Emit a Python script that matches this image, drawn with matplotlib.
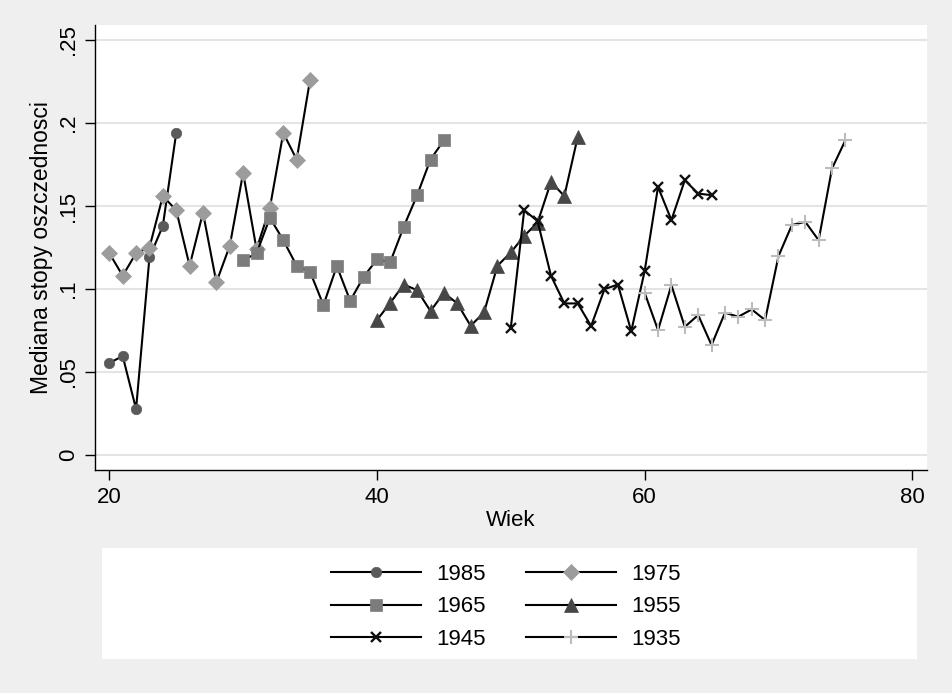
import matplotlib
matplotlib.use("Agg")
import matplotlib.pyplot as plt
from matplotlib.patches import Rectangle

plt.rcParams['font.family'] = ['Liberation Sans', 'DejaVu Sans']

ages_1985 = [20, 21, 22, 23, 24, 25]
vals_1985 = [0.0554, 0.0596, 0.0277, 0.119, 0.138, 0.194]

ages_1975 = list(range(20, 36))
vals_1975 = [0.1216, 0.108, 0.1216, 0.125, 0.156, 0.1475, 0.114, 0.146,
             0.104, 0.126, 0.170, 0.124, 0.149, 0.194, 0.178, 0.226]

ages_1965 = list(range(30, 46))
vals_1965 = [0.1174, 0.1214, 0.1429, 0.1294, 0.114, 0.1104, 0.0903, 0.1138,
             0.0929, 0.1073, 0.1178, 0.1164, 0.1375, 0.1565, 0.178, 0.1896]

ages_1955 = list(range(40, 56))
vals_1955 = [0.0813, 0.0917, 0.1027, 0.0993, 0.0867, 0.0977, 0.0913, 0.0778,
             0.0859, 0.114, 0.122, 0.132, 0.140, 0.1645, 0.156, 0.1916]

ages_1945 = list(range(50, 66))
vals_1945 = [0.0766, 0.1475, 0.1409, 0.108, 0.0913, 0.0913, 0.0777, 0.0999,
             0.1027, 0.0746, 0.1108, 0.1615, 0.1415, 0.1655, 0.1575, 0.1565]

ages_1935 = list(range(60, 76))
vals_1935 = [0.0977, 0.0752, 0.1023, 0.0772, 0.0843, 0.0662, 0.0857, 0.0833,
             0.0877, 0.0813, 0.1198, 0.1385, 0.1405, 0.1294, 0.1726, 0.1896]

labels = ['1985', '1975', '1965', '1955', '1945', '1935']
xticks = [20, 40, 60, 80]
yticks = [0, 0.05, 0.1, 0.15, 0.2, 0.25]
yticklabels = ['0', '.05', '.1', '.15', '.2', '.25']

W, H = 952, 693
fig = plt.figure(figsize=(W / 100, H / 100), dpi=100)
bg = '#efefef'
fig.patch.set_facecolor(bg)

ax = fig.add_axes([94.5 / W, 1 - 470 / H, (926.5 - 94.5) / W, (470 - 25) / H])
ax.set_facecolor('white')

series = [
    (ages_1985, vals_1985, dict(marker='o', color='#5a5a5a', ms=7.5)),
    (ages_1975, vals_1975, dict(marker='D', color='#9c9c9c', ms=8.5)),
    (ages_1965, vals_1965, dict(marker='s', color='#7c7c7c', ms=8.5)),
    (ages_1955, vals_1955, dict(marker='^', color='#474747', ms=10)),
    (ages_1945, vals_1945, dict(marker='x', color='#111111', ms=7, mew=1.7)),
    (ages_1935, vals_1935, dict(marker='+', color='#bcbcbc', ms=10.5, mew=1.5)),
]

handles = []
for (a, v, st), lab in zip(series, labels):
    ln, = ax.plot(a, v, color='black', lw=1.5, marker=st['marker'], ms=st['ms'],
                  mfc=st['color'], mec=st['color'], mew=st.get('mew', 0.5),
                  label=lab, zorder=3)
    handles.append(ln)

ax.set_xlim(18.894, 81.06)
ax.set_ylim(-0.00904, 0.25904)
ax.set_xticks(xticks)
ax.set_xticklabels([str(t) for t in xticks])
ax.set_yticks(yticks)
ax.set_yticklabels(yticklabels, rotation=90, va='center')
ax.yaxis.grid(True, color='#e4e4e4', lw=1.5)
ax.set_axisbelow(True)
for s in ['top', 'right']:
    ax.spines[s].set_visible(False)
for s in ['left', 'bottom']:
    ax.spines[s].set_linewidth(1.0)
    ax.spines[s].set_color('black')
ax.tick_params(axis='both', length=7, width=1.0, labelsize=16, colors='black', pad=4)
ax.tick_params(axis='x', pad=5)
ax.set_xlabel('Wiek', fontsize=16, labelpad=2)
ax.set_ylabel('Mediana stopy oszczednosci', fontsize=16.5, labelpad=4)

fig.patches.append(Rectangle((101.7 / W, 1 - 659 / H), (917 - 101.7) / W, (659 - 548) / H,
                             transform=fig.transFigure, facecolor='white',
                             edgecolor='none', zorder=0))

# row-wise ordering in a 2-column legend
order = [0, 2, 4, 1, 3, 5]
leg = fig.legend([handles[i] for i in order], [labels[i] for i in order],
                 loc='center', bbox_to_anchor=(506 / W, 1 - 607 / H), ncol=2,
                 frameon=False, fontsize=16, handlelength=4.05, handletextpad=0.68,
                 columnspacing=1.8, labelspacing=0.52, borderpad=0)

fig.savefig('out.png', dpi=100, facecolor=bg)
